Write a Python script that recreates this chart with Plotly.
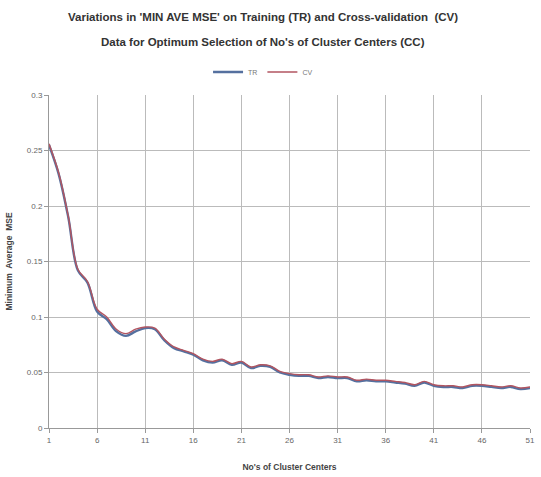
import plotly.graph_objects as go

cluster_centers = list(range(1, 52))
cv_mse = [0.256, 0.230, 0.191, 0.143, 0.132, 0.107, 0.100, 0.089, 0.085, 0.089,
          0.091, 0.090, 0.080, 0.073, 0.070, 0.067, 0.062, 0.060, 0.062, 0.058,
          0.060, 0.055, 0.057, 0.056, 0.051, 0.049, 0.048, 0.048, 0.046, 0.047,
          0.046, 0.046, 0.043, 0.044, 0.043, 0.043, 0.042, 0.041, 0.039, 0.042,
          0.039, 0.038, 0.038, 0.037, 0.039, 0.039, 0.038, 0.037, 0.038, 0.036,
          0.037]
tr_mse = [0.255, 0.229, 0.190, 0.142, 0.131, 0.105, 0.098, 0.087, 0.083, 0.087,
          0.090, 0.089, 0.079, 0.072, 0.069, 0.066, 0.061, 0.059, 0.061, 0.057,
          0.059, 0.054, 0.056, 0.055, 0.050, 0.048, 0.047, 0.047, 0.045, 0.046,
          0.045, 0.045, 0.042, 0.043, 0.042, 0.042, 0.041, 0.040, 0.038, 0.041,
          0.038, 0.037, 0.037, 0.036, 0.038, 0.038, 0.037, 0.036, 0.037, 0.035,
          0.036]
x_ticks = [1, 6, 11, 16, 21, 26, 31, 36, 41, 46, 51]
y_ticks = [0, 0.05, 0.1, 0.15, 0.2, 0.25, 0.3]
y_tick_text = ["0", "0.05", "0.1", "0.15", "0.2", "0.25", "0.3"]
title_lines = ["Variations in 'MIN AVE MSE' on Training (TR) and Cross-validation  (CV)",
               "Data for Optimum Selection of No's of Cluster Centers (CC)"]

fig = go.Figure()
fig.add_trace(go.Scatter(x=cluster_centers, y=tr_mse, mode="lines", name="TR",
                         line=dict(color="#55709F", width=2.4, shape="spline")))
fig.add_trace(go.Scatter(x=cluster_centers, y=cv_mse, mode="lines", name="CV",
                         line=dict(color="#B25560", width=1.4, shape="spline")))

fig.update_layout(
    width=541, height=477,
    margin=dict(l=49, r=6, t=95, b=47),
    paper_bgcolor="white", plot_bgcolor="white",
    font=dict(family="Liberation Sans, Arial", color="#444444"),
    legend=dict(orientation="h", x=0.445, xanchor="center", y=1.069, yanchor="middle",
                font=dict(size=7, color="#777777"), bgcolor="rgba(0,0,0,0)",
                itemwidth=30, tracegroupgap=0),
    showlegend=True,
)
for i, (txt, yp) in enumerate(zip(title_lines, [17, 42])):
    fig.add_annotation(text="<b>" + txt + "</b>", xref="paper", yref="paper",
                       x=(265 - 49) / 486, y=(430 - yp) / 335, xanchor="center", yanchor="middle",
                       showarrow=False, font=dict(size=11.5, color="#333333"))
fig.update_xaxes(range=[1, 51], tickvals=x_ticks, ticktext=[str(v) for v in x_ticks],
                 showgrid=True, gridcolor="#BBBBBB", gridwidth=1,
                 showline=True, linecolor="#999999", linewidth=1,
                 ticks="outside", ticklen=4, tickcolor="#999999",
                 tickfont=dict(size=8, color="#666666"), zeroline=False,
                 title=dict(text="<b>No's of Cluster Centers</b>", font=dict(size=8.5, color="#444444"), standoff=20))
fig.update_yaxes(range=[0, 0.3], tickvals=y_ticks, ticktext=y_tick_text,
                 showgrid=True, gridcolor="#BBBBBB", gridwidth=1,
                 showline=True, linecolor="#999999", linewidth=1,
                 ticks="outside", ticklen=4, tickcolor="#999999",
                 tickfont=dict(size=8, color="#666666"), zeroline=False,
                 title=dict(text="<b>Minimum  Average  MSE</b>", font=dict(size=8.5, color="#444444"), standoff=12))

fig.write_html("out.html")
